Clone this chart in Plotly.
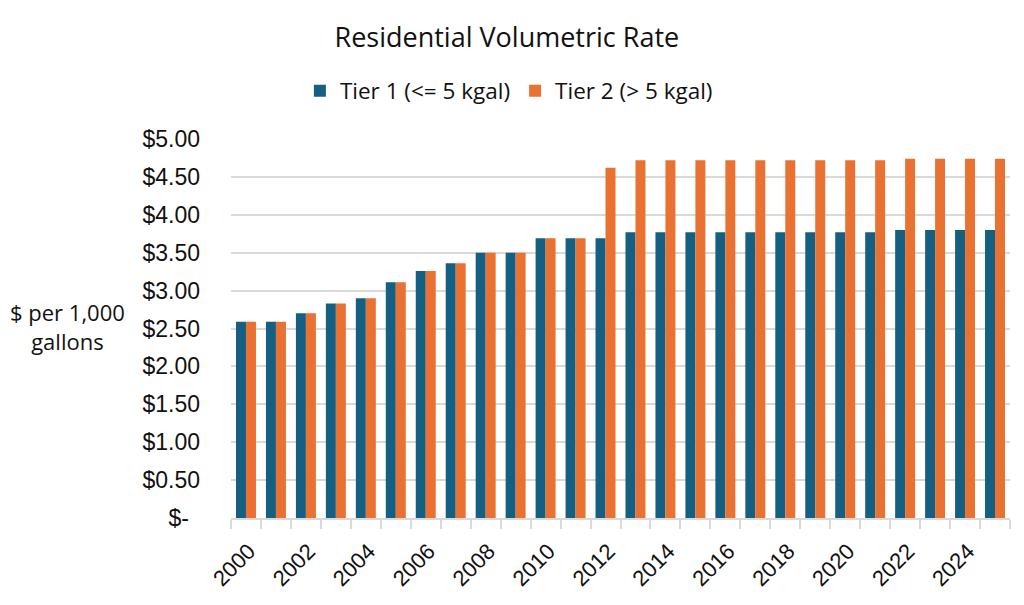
import plotly.graph_objects as go

years = list(range(2000, 2026))
tier1 = [2.59, 2.59, 2.70, 2.83, 2.90, 3.11, 3.26, 3.36, 3.50, 3.50,
         3.69, 3.69, 3.69, 3.77, 3.77, 3.77, 3.77, 3.77, 3.77, 3.77,
         3.77, 3.77, 3.80, 3.80, 3.80, 3.80]
tier2 = [2.59, 2.59, 2.70, 2.83, 2.90, 3.11, 3.26, 3.36, 3.50, 3.50,
         3.69, 3.69, 4.62, 4.72, 4.72, 4.72, 4.72, 4.72, 4.72, 4.72,
         4.72, 4.72, 4.74, 4.74, 4.74, 4.74]
series_names = ["Tier 1 (<= 5 kgal)", "Tier 2 (> 5 kgal)"]
y_tickvals = [0, 0.5, 1, 1.5, 2, 2.5, 3, 3.5, 4, 4.5, 5]
y_ticktext = ["$-\u00a0\u2009", "$0.50", "$1.00", "$1.50", "$2.00", "$2.50",
              "$3.00", "$3.50", "$4.00", "$4.50", "$5.00"]
x_tickvals = list(range(2000, 2025, 2))
title_text = "Residential Volumetric Rate"
y_title = "$ per 1,000<br>gallons"

fig = go.Figure()
fig.add_trace(go.Bar(x=years, y=tier1, name=series_names[0],
                     marker=dict(color="#156082", line=dict(width=0))))
fig.add_trace(go.Bar(x=years, y=tier2, name=series_names[1],
                     marker=dict(color="#E97132", line=dict(width=0))))

# page body has an 8px margin, so the figure is drawn 8px right/down
W, H = 1016, 597
fig.update_layout(
    width=W, height=H,
    paper_bgcolor="white", plot_bgcolor="white",
    margin=dict(l=223, r=14, t=131, b=87, autoexpand=False),
    barmode="group", bargap=1/3, bargroupgap=0,
    title=dict(text=title_text, x=0.491, xref="container", xanchor="center",
               y=1 - 30 / H, yref="container", yanchor="middle",
               font=dict(family="Open Sans", size=27, color="#111111")),
    legend=dict(orientation="h", x=0.493, xref="container", xanchor="center",
                y=1 - 83 / H, yref="container", yanchor="middle",
                font=dict(family="Open Sans", size=22.5, color="#111111"),
                itemwidth=30, tracegroupgap=0),
    font=dict(family="Liberation Sans", color="#111111"),
)

fig.update_xaxes(
    range=[1999.5, 2025.5], tickmode="array", tickvals=x_tickvals,
    tickangle=-45, ticks="", showgrid=False,
    showline=True, linecolor="#D9D9D9", linewidth=1.5,
    ticklabelstandoff=10, ticklabelshift=3,
    tickfont=dict(family="Liberation Sans", size=22, color="#111111"),
    minor=dict(tickmode="linear", tick0=1999.5, dtick=1, ticks="outside",
               ticklen=9, tickcolor="#D9D9D9", tickwidth=1.5, showgrid=False),
)
fig.update_yaxes(
    range=[0, 5], tickmode="array", tickvals=y_tickvals, ticktext=y_ticktext,
    showgrid=True, gridcolor="#D9D9D9", gridwidth=1.5, zeroline=False,
    ticks="", ticklabelstandoff=30,
    tickfont=dict(family="Liberation Sans", size=23, color="#111111"),
)
fig.add_annotation(text=y_title, xref="paper", yref="paper", x=-164 / 779, y=0.506,
                   xanchor="center", yanchor="middle", showarrow=False,
                   font=dict(family="Open Sans", size=22, color="#111111"),
                   align="center")

fig.write_html("out.html")
